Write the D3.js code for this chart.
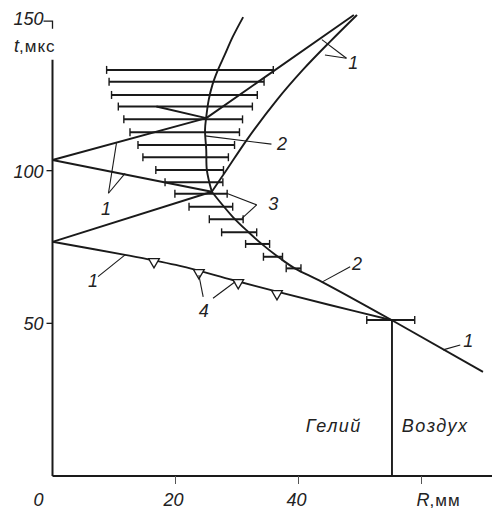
<!DOCTYPE html>
<html>
<head>
<meta charset="utf-8">
<script src="https://cdn.jsdelivr.net/npm/d3@7"></script>
<style>
  body { margin: 0; background: #fff; }
  svg { font-family: "Liberation Sans", Arial, sans-serif; }
  .num { font-style: italic; font-size: 18px; fill: #222; }
  .ln { fill: none; stroke: #1a1a1a; stroke-width: 1.9; stroke-linejoin: round; }
  .lead { fill: none; stroke: #1a1a1a; stroke-width: 1.1; }
</style>
</head>
<body>
<svg id="chart" width="492" height="511"></svg>
<script>
// axes
var xTicks = [0, 20, 40, 60];
var xTickLabels = ['0', '20', '40', ''];
var yTicks = [50, 100, 150];
var yTickLabels = ['50', '100', '150'];

// error bars (t, R from, R to)
var errT  = [133.0, 129.1, 124.8, 121.0, 116.8, 112.6, 108.4, 104.4, 100.2, 96.2, 92.4, 88.2, 84.1, 79.8, 76.0, 71.8, 68.0, 51.1];
var errLo = [8.8, 9.2, 9.6, 10.7, 11.6, 12.6, 13.9, 14.7, 16.8, 18.3, 19.9, 22.2, 25.5, 27.5, 31.4, 34.3, 38.0, 51.1];
var errHi = [35.9, 34.4, 33.3, 32.5, 30.9, 30.4, 29.6, 28.6, 27.8, 27.7, 28.4, 29.3, 31.0, 33.2, 35.3, 37.4, 40.4, 58.9];

// triangles (4)
var triR = [16.5, 23.8, 30.2, 36.5];
var triT = [70.2, 66.6, 63.3, 59.7];

// curves [R, t]
var curve4 = [[0, 76.7], [11.8, 72.4], [20.7, 68.8], [29.3, 64.2], [36.5, 60.4], [45.1, 56.0], [55.2, 51.0]];
var curve2 = [[55.2, 51.0], [43.8, 63.6], [39.4, 68.0], [37.0, 71.3], [34.2, 75.7], [31.8, 80.0], [29.3, 84.9], [25.9, 93.1]];
var curveUp = [[25.9, 93.1], [25.1, 100.2], [25.0, 106.8], [24.8, 113.3], [25.0, 117.6], [25.4, 123.2], [26.0, 128.1], [26.9, 133.0], [28.0, 137.9], [29.3, 143.8], [31.0, 150.3]];
var curveRight = [[25.9, 93.1], [28.3, 100.2], [31.6, 110.1], [36.5, 123.2], [40.7, 133.0], [45.1, 142.2], [49.5, 151.0]];
var lineUpper = [[0, 103.5], [25.0, 117.2], [49.0, 151.0]];
var lineShort = [[16.9, 121.0], [25.0, 117.2]];
var lineA = [[0, 103.5], [25.9, 93.1]];
var lineB = [[0, 76.7], [25.9, 93.1]];
var lineAir = [[55.2, 51.0], [70.0, 34.1]];
var iface = [[55.2, 0], [55.2, 51.0]];

// leader lines and labels
var leaders = [
  [[9.1, 92.6], [10.4, 109.0]], [[9.1, 92.6], [11.8, 99.1]],
  [[7.4, 65.3], [11.8, 72.4]],
  [[24.5, 58.7], [23.8, 65.8]], [[26.1, 58.2], [29.7, 63.6]],
  [[33.2, 88.8], [28.3, 92.6]], [[33.2, 88.8], [30.8, 84.4]],
  [[48.4, 68.5], [43.8, 63.5]],
  [[66.3, 42.9], [63.5, 41.3]],
  [[35.6, 108.7], [24.8, 111.4]],
  [[47.8, 136.8], [43.8, 142.9]], [[47.8, 136.8], [44.3, 137.9]]
];
var labelText = ['1', '1', '4', '3', '2', '1', '2', '1'];
var labelR = [8.7, 6.6, 24.6, 35.9, 49.5, 67.6, 37.3, 48.9];
var labelT = [87.8, 64.2, 54.4, 89.3, 69.8, 44.5, 109.1, 135.7];

var svg = d3.select('#chart');
var x = d3.scaleLinear().domain([0, 60]).range([52.5, 421.5]);
var y = d3.scaleLinear().domain([0, 150]).range([476, 18]);
var axisTop = 136.3;

var line = d3.line().x(function(d) { return x(d[0]); }).y(function(d) { return y(d[1]); });
var smooth = d3.line().x(function(d) { return x(d[0]); }).y(function(d) { return y(d[1]); }).curve(d3.curveCatmullRom.alpha(0.5));

// axes
svg.append('line').attr('x1', x(0)).attr('x2', 492).attr('y1', y(0)).attr('y2', y(0))
  .attr('stroke', '#1a1a1a').attr('stroke-width', 2);
svg.append('line').attr('x1', x(0)).attr('x2', x(0)).attr('y1', y(0)).attr('y2', y(axisTop))
  .attr('stroke', '#1a1a1a').attr('stroke-width', 2);

svg.selectAll('.xt').data(xTicks.slice(1)).enter().append('line')
  .attr('x1', function(d) { return x(d); }).attr('x2', function(d) { return x(d); })
  .attr('y1', y(0)).attr('y2', y(0) + 8)
  .attr('stroke', '#555').attr('stroke-width', 1);
svg.selectAll('.xl').data(xTicks).enter().append('text')
  .attr('class', 'num').attr('text-anchor', 'middle')
  .attr('x', function(d, i) { return i === 0 ? x(d) - 14 : x(d) - 2; })
  .attr('y', 506)
  .text(function(d, i) { return xTickLabels[i]; });
var rl = svg.append('text').attr('x', x(60) - 5).attr('y', 506).attr('font-size', 18).attr('fill', '#222');
rl.append('tspan').attr('font-style', 'italic').text('R');
rl.append('tspan').attr('font-size', 17).attr('letter-spacing', 1).text(',мм');

svg.selectAll('.yt').data(yTicks.slice(0, 2)).enter().append('line')
  .attr('x1', x(0) - 6).attr('x2', x(0))
  .attr('y1', function(d) { return y(d); }).attr('y2', function(d) { return y(d); })
  .attr('stroke', '#1a1a1a').attr('stroke-width', 1.3);
svg.append('path').attr('d', 'M' + (x(0) - 9) + ',' + y(149) + 'H' + x(0) + 'V' + y(146.5))
  .attr('fill', 'none').attr('stroke', '#1a1a1a').attr('stroke-width', 1.3);
svg.selectAll('.yl').data(yTicks).enter().append('text')
  .attr('class', 'num').attr('text-anchor', 'end')
  .attr('x', x(0) - 9)
  .attr('y', function(d) { return y(d) + 7; })
  .text(function(d, i) { return yTickLabels[i]; });
var tl = svg.append('text').attr('x', 14).attr('y', 52).attr('font-size', 18).attr('fill', '#222');
tl.append('tspan').attr('font-style', 'italic').text('t');
tl.append('tspan').attr('font-size', 17).attr('letter-spacing', 1).text(',мкс');

// interface helium / air
svg.append('path').attr('d', line(iface)).attr('class', 'ln').attr('stroke-width', 2.4);
svg.append('text').attr('class', 'num').attr('font-size', 19).attr('letter-spacing', 1.5).attr('text-anchor', 'end')
  .attr('x', x(50.3)).attr('y', y(14.4)).text('Гелий');
svg.append('text').attr('class', 'num').attr('font-size', 19).attr('letter-spacing', 1.5)
  .attr('x', x(56.8)).attr('y', y(14.4)).text('Воздух');

// error bars
var eb = svg.selectAll('.eb').data(errT).enter().append('g');
eb.append('line')
  .attr('x1', function(d, i) { return x(errLo[i]); }).attr('x2', function(d, i) { return x(errHi[i]); })
  .attr('y1', function(d) { return y(d); }).attr('y2', function(d) { return y(d); })
  .attr('stroke', '#1a1a1a').attr('stroke-width', 2);
eb.append('line')
  .attr('x1', function(d, i) { return x(errLo[i]); }).attr('x2', function(d, i) { return x(errLo[i]); })
  .attr('y1', function(d) { return y(d) - 4; }).attr('y2', function(d) { return y(d) + 4; })
  .attr('stroke', '#1a1a1a').attr('stroke-width', 1.4);
eb.append('line')
  .attr('x1', function(d, i) { return x(errHi[i]); }).attr('x2', function(d, i) { return x(errHi[i]); })
  .attr('y1', function(d) { return y(d) - 4; }).attr('y2', function(d) { return y(d) + 4; })
  .attr('stroke', '#1a1a1a').attr('stroke-width', 1.4);

// wave lines
[lineUpper, lineShort, lineA, lineB, lineAir].forEach(function(c) {
  svg.append('path').attr('d', line(c)).attr('class', 'ln');
});
[curve4, curve2, curveUp, curveRight].forEach(function(c) {
  svg.append('path').attr('d', smooth(c)).attr('class', 'ln');
});

// triangles
svg.selectAll('.tri').data(triR).enter().append('path')
  .attr('d', d3.symbol().type(d3.symbolTriangle).size(50))
  .attr('transform', function(d, i) { return 'translate(' + x(d) + ',' + y(triT[i]) + ') rotate(180)'; })
  .attr('fill', '#fff').attr('stroke', '#1a1a1a').attr('stroke-width', 1.3);

// leaders + labels
leaders.forEach(function(c) {
  svg.append('path').attr('d', line(c)).attr('class', 'lead');
});
svg.selectAll('.lab').data(labelText).enter().append('text')
  .attr('class', 'num').attr('text-anchor', 'middle')
  .attr('x', function(d, i) { return x(labelR[i]); })
  .attr('y', function(d, i) { return y(labelT[i]) + 7; })
  .text(function(d) { return d; });
</script>
</body>
</html>
